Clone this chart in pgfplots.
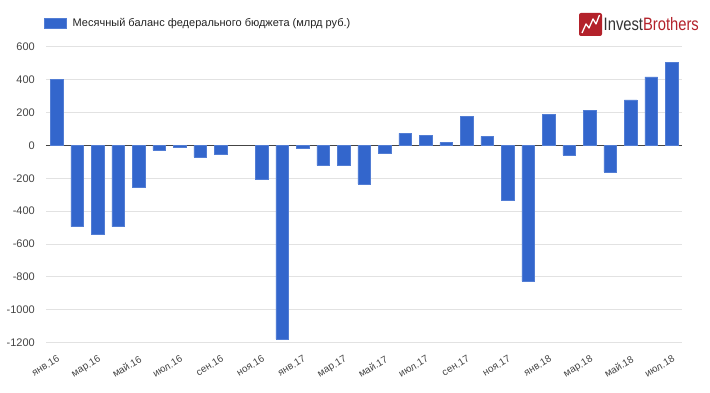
\documentclass[border=0pt]{standalone}
\usepackage{pgfplots}
\pgfplotsset{compat=1.18}
\usepackage{fontspec}
\setmainfont{Liberation Sans}
\newfontfamily\logofont[FakeStretch=0.82]{Liberation Sans}
\definecolor{barblue}{HTML}{3366CC}
\definecolor{lbl}{HTML}{444444}
\definecolor{legtxt}{HTML}{222222}
\definecolor{gridc}{HTML}{E2E2E2}
\definecolor{zeroc}{HTML}{444444}
\definecolor{logored}{HTML}{B3212A}
\definecolor{logogray}{HTML}{333333}
\begin{document}
\begin{tikzpicture}[x=1pt,y=1pt]
\useasboundingbox (0,0) rectangle (710,393);
\begin{axis}[
  at={(46pt,50.3pt)}, anchor=south west,
  scale only axis, width=636pt, height=296pt,
  xmin=-0.52, xmax=30.5, ymin=-1200, ymax=600,
  ytick={-1200,-1000,...,600},
  xtick={0,2,...,30},
  xticklabels={янв.16,мар.16,май.16,июл.16,сен.16,ноя.16,янв.17,мар.17,май.17,июл.17,сен.17,ноя.17,янв.18,мар.18,май.18,июл.18},
  ymajorgrids, grid style={draw=gridc, line width=1pt},
  axis line style={draw=none},
  major tick length=0pt,
  tick label style={font=\fontsize{11}{13}\selectfont, text=lbl},
  /pgf/number format/assume math mode=true,
  /pgf/number format/1000 sep={},
  yticklabel style={anchor=east, inner sep=0pt, xshift=-11pt},
  xticklabel style={rotate=31, anchor=north east, inner sep=0pt, font=\fontsize{10}{12}\selectfont},
  xticklabel shift=12pt,
  extra y ticks={0}, extra y tick labels={},
  extra y tick style={grid style={draw=zeroc, line width=1pt}},
  ybar, bar width=0.62,
  legend style={at={(0,1)}, anchor=west, yshift=23.5pt, xshift=-2pt, draw=none, fill=none,
    inner sep=0pt, font=\fontsize{11}{13}\selectfont, text=legtxt,
    /tikz/every odd column/.append style={column sep=4pt}},
  legend image code/.code={\fill[#1] (0pt,-5pt) rectangle (22pt,5pt);},
]
\addplot[fill=barblue, draw=barblue!85!white, line width=0.5pt] coordinates {
(0,400) (1,-494) (2,-538) (3,-494) (4,-254) (5,-30) (6,-12) (7,-71) (8,-53)
(10,-205) (11,-1179) (12,-20) (13,-122) (14,-122) (15,-234) (16,-47)
(17,73) (18,61) (19,16) (20,177) (21,55) (22,-331) (23,-827)
(24,187) (25,-59) (26,213) (27,-161) (28,276) (29,417) (30,506)
};
\addlegendentry{Месячный баланс федерального бюджета (млрд руб.)}
\end{axis}
% logo
\fill[logored, rounded corners=2pt] (579,357) rectangle (602,380);
\draw[white, line width=1.3pt, line join=round] (582,360) -- (586,369) -- (589,365) -- (593,374) -- (596,369) -- (599.5,378);
\node[anchor=base west, inner sep=0pt] at (603.5,362) {\logofont\fontsize{18}{18}\selectfont\textcolor{logogray}{Invest}\textcolor{logored}{Brothers}};
\end{tikzpicture}
\end{document}
